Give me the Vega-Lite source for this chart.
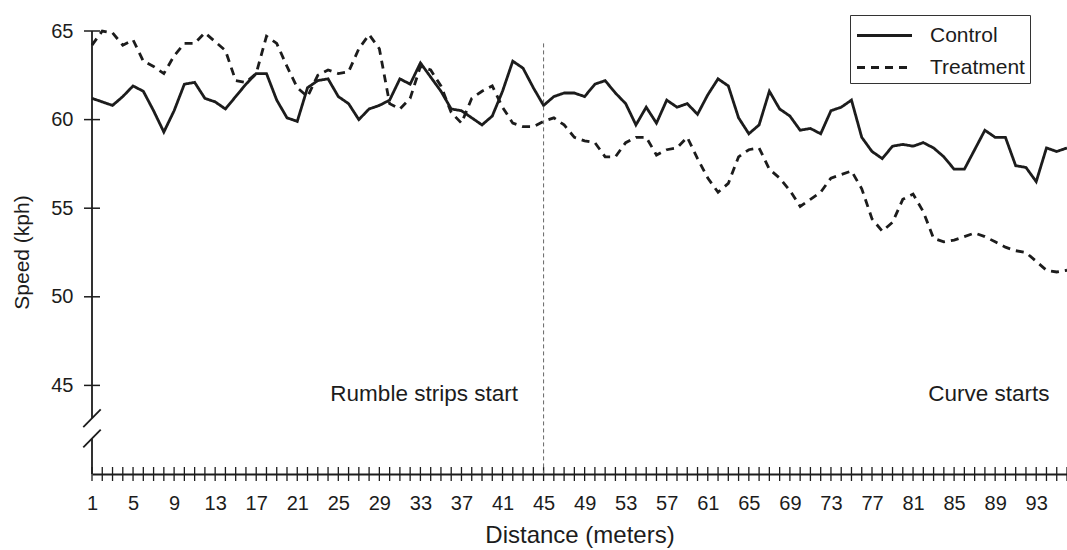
{
  "$schema": "https://vega.github.io/schema/vega-lite/v6.json",
  "width": 975,
  "height": 443,
  "autosize": {"type": "none"},
  "padding": {"left": 92, "top": 31, "right": 0, "bottom": 76},
  "background": "white",
  "config": {
    "font": "Liberation Sans",
    "view": {"stroke": null},
    "axis": {"grid": false, "labelColor": "#1c1c1c", "titleColor": "#1c1c1c", "titleFontWeight": "normal"}
  },
  "datasets": {
    "speeds": [
      {"d":1,"Control":61.2,"Treatment":64.2},{"d":2,"Control":61.0,"Treatment":65.0},{"d":3,"Control":60.8,"Treatment":64.9},{"d":4,"Control":61.3,"Treatment":64.2},
      {"d":5,"Control":61.9,"Treatment":64.5},{"d":6,"Control":61.6,"Treatment":63.3},{"d":7,"Control":60.5,"Treatment":63.0},{"d":8,"Control":59.3,"Treatment":62.6},
      {"d":9,"Control":60.5,"Treatment":63.6},{"d":10,"Control":62.0,"Treatment":64.3},{"d":11,"Control":62.1,"Treatment":64.3},{"d":12,"Control":61.2,"Treatment":64.9},
      {"d":13,"Control":61.0,"Treatment":64.4},{"d":14,"Control":60.6,"Treatment":63.9},{"d":15,"Control":61.3,"Treatment":62.2},{"d":16,"Control":62.0,"Treatment":62.1},
      {"d":17,"Control":62.6,"Treatment":62.6},{"d":18,"Control":62.6,"Treatment":64.7},{"d":19,"Control":61.1,"Treatment":64.3},{"d":20,"Control":60.1,"Treatment":63.0},
      {"d":21,"Control":59.9,"Treatment":61.8},{"d":22,"Control":61.8,"Treatment":61.3},{"d":23,"Control":62.2,"Treatment":62.5},{"d":24,"Control":62.3,"Treatment":62.8},
      {"d":25,"Control":61.3,"Treatment":62.6},{"d":26,"Control":60.9,"Treatment":62.7},{"d":27,"Control":60.0,"Treatment":64.0},{"d":28,"Control":60.6,"Treatment":64.8},
      {"d":29,"Control":60.8,"Treatment":64.0},{"d":30,"Control":61.1,"Treatment":60.9},{"d":31,"Control":62.3,"Treatment":60.6},{"d":32,"Control":62.0,"Treatment":61.2},
      {"d":33,"Control":63.2,"Treatment":63.0},{"d":34,"Control":62.4,"Treatment":62.8},{"d":35,"Control":61.6,"Treatment":61.9},{"d":36,"Control":60.6,"Treatment":60.4},
      {"d":37,"Control":60.5,"Treatment":59.8},{"d":38,"Control":60.1,"Treatment":61.2},{"d":39,"Control":59.7,"Treatment":61.6},{"d":40,"Control":60.2,"Treatment":61.9},
      {"d":41,"Control":61.6,"Treatment":60.7},{"d":42,"Control":63.3,"Treatment":59.8},{"d":43,"Control":62.9,"Treatment":59.6},{"d":44,"Control":61.8,"Treatment":59.6},
      {"d":45,"Control":60.8,"Treatment":59.9},{"d":46,"Control":61.3,"Treatment":60.1},{"d":47,"Control":61.5,"Treatment":59.7},{"d":48,"Control":61.5,"Treatment":59.0},
      {"d":49,"Control":61.3,"Treatment":58.8},{"d":50,"Control":62.0,"Treatment":58.7},{"d":51,"Control":62.2,"Treatment":57.9},{"d":52,"Control":61.5,"Treatment":57.9},
      {"d":53,"Control":60.9,"Treatment":58.7},{"d":54,"Control":59.7,"Treatment":59.0},{"d":55,"Control":60.7,"Treatment":59.0},{"d":56,"Control":59.8,"Treatment":58.0},
      {"d":57,"Control":61.1,"Treatment":58.3},{"d":58,"Control":60.7,"Treatment":58.4},{"d":59,"Control":60.9,"Treatment":59.0},{"d":60,"Control":60.3,"Treatment":57.8},
      {"d":61,"Control":61.4,"Treatment":56.7},{"d":62,"Control":62.3,"Treatment":55.9},{"d":63,"Control":61.9,"Treatment":56.4},{"d":64,"Control":60.1,"Treatment":57.9},
      {"d":65,"Control":59.2,"Treatment":58.3},{"d":66,"Control":59.7,"Treatment":58.4},{"d":67,"Control":61.6,"Treatment":57.2},{"d":68,"Control":60.6,"Treatment":56.7},
      {"d":69,"Control":60.2,"Treatment":56.0},{"d":70,"Control":59.4,"Treatment":55.1},{"d":71,"Control":59.5,"Treatment":55.5},{"d":72,"Control":59.2,"Treatment":55.9},
      {"d":73,"Control":60.5,"Treatment":56.7},{"d":74,"Control":60.7,"Treatment":56.9},{"d":75,"Control":61.1,"Treatment":57.1},{"d":76,"Control":59.0,"Treatment":56.1},
      {"d":77,"Control":58.2,"Treatment":54.4},{"d":78,"Control":57.8,"Treatment":53.7},{"d":79,"Control":58.5,"Treatment":54.2},{"d":80,"Control":58.6,"Treatment":55.5},
      {"d":81,"Control":58.5,"Treatment":55.8},{"d":82,"Control":58.7,"Treatment":54.8},{"d":83,"Control":58.4,"Treatment":53.3},{"d":84,"Control":57.9,"Treatment":53.1},
      {"d":85,"Control":57.2,"Treatment":53.2},{"d":86,"Control":57.2,"Treatment":53.4},{"d":87,"Control":58.3,"Treatment":53.6},{"d":88,"Control":59.4,"Treatment":53.4},
      {"d":89,"Control":59.0,"Treatment":53.1},{"d":90,"Control":59.0,"Treatment":52.8},{"d":91,"Control":57.4,"Treatment":52.6},{"d":92,"Control":57.3,"Treatment":52.5},
      {"d":93,"Control":56.5,"Treatment":52.0},{"d":94,"Control":58.4,"Treatment":51.5},{"d":95,"Control":58.2,"Treatment":51.4},{"d":96,"Control":58.4,"Treatment":51.5}
    ],
    "yticks": [{"v":45},{"v":50},{"v":55},{"v":60},{"v":65}],
    "yaxisline": [{"lo":43.15,"hi":65},{"lo":40,"hi":42.0}],
    "ybreak": [{"xa":0.15,"xb":1.85,"ya":42.65,"yb":43.65},{"xa":0.15,"xb":1.85,"ya":41.5,"yb":42.5}],
    "notes": [{"label":"Rumble strips start","d":42.5,"v":44.5},{"label":"Curve starts","d":94.3,"v":44.5}]
  },
  "layer": [
    {
      "data": {"name": "speeds"},
      "transform": [{"fold": ["Control", "Treatment"], "as": ["series", "speed"]}],
      "mark": {"type": "line", "color": "#1c1c1c", "strokeWidth": 2.8, "clip": false},
      "encoding": {
        "x": {
          "field": "d", "type": "quantitative",
          "scale": {"domain": [1, 96], "nice": false, "zero": false},
          "axis": {
            "values": [1,5,9,13,17,21,25,29,33,37,41,45,49,53,57,61,65,69,73,77,81,85,89,93],
            "ticks": false, "domain": true, "domainColor": "#1c1c1c", "domainWidth": 1.8,
            "labelFontSize": 20, "labelPadding": 19, "labelFlush": false,
            "title": "Distance (meters)", "titleFontSize": 24, "titleY": 49
          }
        },
        "y": {
          "field": "speed", "type": "quantitative",
          "scale": {"domain": [40, 65], "nice": false, "zero": false},
          "axis": {
            "values": [45, 50, 55, 60, 65],
            "ticks": false, "domain": false,
            "labelFontSize": 20, "labelPadding": 19,
            "title": "Speed (kph)", "titleFontSize": 21, "titleX": -60, "titleY": 221
          }
        },
        "strokeDash": {
          "field": "series", "type": "nominal",
          "scale": {"domain": ["Control", "Treatment"], "range": [[1, 0], [8, 6]]},
          "legend": {
            "orient": "none", "legendX": 758, "legendY": -16, "title": null,
            "symbolType": "M-2,0L2,0", "symbolSize": 756, "symbolStrokeWidth": 3,
            "symbolOffset": 14, "symbolFillColor": "transparent",
            "symbolStrokeColor": "#1c1c1c", "labelFontSize": 21, "labelColor": "#1c1c1c",
            "labelOffset": 30, "rowPadding": 6, "strokeColor": "#333", "fillColor": "white", "padding": 5
          }
        }
      }
    },
    {
      "data": {"name": "speeds"},
      "mark": {"type": "tick", "orient": "vertical", "size": 14, "thickness": 1.3, "color": "#1c1c1c", "opacity": 1, "clip": false},
      "encoding": {"x": {"field": "d", "type": "quantitative"}, "y": {"datum": 40}}
    },
    {
      "data": {"name": "yticks"},
      "mark": {"type": "tick", "orient": "horizontal", "size": 16, "thickness": 1.5, "color": "#1c1c1c", "opacity": 1, "clip": false},
      "encoding": {"y": {"field": "v", "type": "quantitative"}, "x": {"datum": 1}}
    },
    {
      "data": {"name": "yaxisline"},
      "mark": {"type": "rule", "color": "#1c1c1c", "strokeWidth": 1.8, "clip": false},
      "encoding": {"x": {"datum": 1}, "y": {"field": "lo", "type": "quantitative"}, "y2": {"field": "hi"}}
    },
    {
      "data": {"name": "ybreak"},
      "mark": {"type": "rule", "color": "#1c1c1c", "strokeWidth": 1.8, "clip": false},
      "encoding": {
        "x": {"field": "xa", "type": "quantitative"}, "x2": {"field": "xb"},
        "y": {"field": "ya", "type": "quantitative"}, "y2": {"field": "yb"}
      }
    },
    {
      "data": {"values": [{}]},
      "mark": {"type": "rule", "color": "#666", "strokeWidth": 1, "strokeDash": [4, 3], "clip": false},
      "encoding": {"x": {"datum": 45}, "y": {"datum": 64.3}, "y2": {"datum": 40}}
    },
    {
      "data": {"name": "notes"},
      "mark": {"type": "text", "align": "right", "baseline": "middle", "fontSize": 22.5, "color": "#1c1c1c"},
      "encoding": {
        "x": {"field": "d", "type": "quantitative"},
        "y": {"field": "v", "type": "quantitative"},
        "text": {"field": "label"}
      }
    }
  ]
}
